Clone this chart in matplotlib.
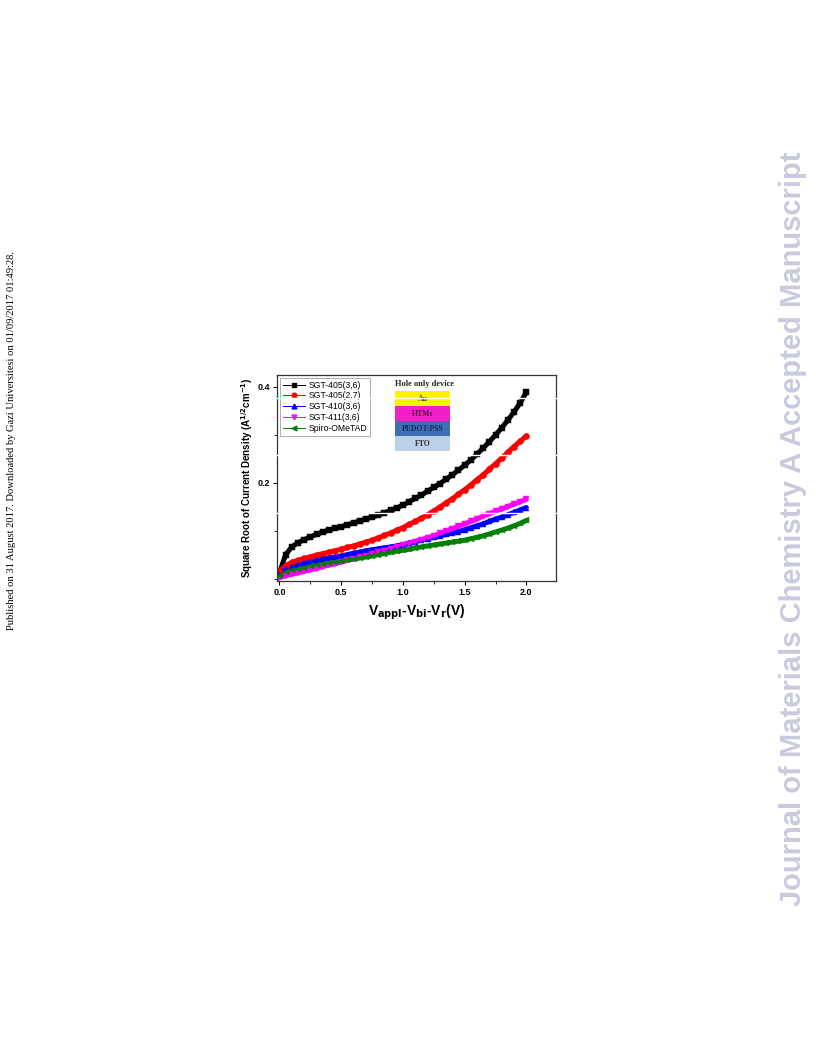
import matplotlib
matplotlib.use("Agg")
import matplotlib.pyplot as plt
from matplotlib.lines import Line2D
from matplotlib.patches import Rectangle
from matplotlib.ticker import MultipleLocator

plt.rcParams['font.family'] = ['Liberation Sans', 'DejaVu Sans']

# ---- data -----------------------------------------------------------------
voltage = [0.00, 0.05, 0.10, 0.15, 0.20, 0.25, 0.30, 0.35, 0.40, 0.45,
           0.50, 0.55, 0.60, 0.65, 0.70, 0.75, 0.80, 0.85, 0.90, 0.95,
           1.00, 1.05, 1.10, 1.15, 1.20, 1.25, 1.30, 1.35, 1.40, 1.45,
           1.50, 1.55, 1.60, 1.65, 1.70, 1.75, 1.80, 1.85, 1.90, 1.95, 2.00]

sgt405_36 = [0.012, 0.050, 0.066, 0.075, 0.081, 0.087, 0.092, 0.097, 0.101, 0.105,
             0.108, 0.112, 0.116, 0.120, 0.124, 0.128, 0.132, 0.137, 0.142, 0.147,
             0.153, 0.160, 0.167, 0.174, 0.182, 0.190, 0.198, 0.207, 0.216, 0.226,
             0.236, 0.247, 0.259, 0.272, 0.285, 0.299, 0.314, 0.330, 0.347, 0.366, 0.388]

sgt405_27 = [0.015, 0.027, 0.034, 0.038, 0.042, 0.045, 0.049, 0.052, 0.055, 0.058,
             0.061, 0.065, 0.068, 0.072, 0.076, 0.080, 0.085, 0.090, 0.095, 0.101,
             0.106, 0.113, 0.119, 0.126, 0.133, 0.141, 0.149, 0.158, 0.166, 0.176,
             0.185, 0.195, 0.206, 0.216, 0.228, 0.239, 0.251, 0.263, 0.275, 0.286, 0.297]

sgt410_36 = [0.008, 0.020, 0.025, 0.029, 0.032, 0.035, 0.038, 0.041, 0.043, 0.045,
             0.047, 0.050, 0.053, 0.055, 0.058, 0.060, 0.062, 0.064, 0.066, 0.068,
             0.071, 0.074, 0.077, 0.080, 0.083, 0.086, 0.089, 0.092, 0.095, 0.098,
             0.102, 0.106, 0.110, 0.114, 0.119, 0.124, 0.128, 0.133, 0.138, 0.143, 0.148]

sgt411_36 = [0.002, 0.006, 0.009, 0.012, 0.015, 0.018, 0.021, 0.025, 0.028, 0.031,
             0.034, 0.038, 0.041, 0.044, 0.048, 0.051, 0.055, 0.058, 0.062, 0.065,
             0.069, 0.073, 0.077, 0.081, 0.085, 0.089, 0.094, 0.099, 0.104, 0.109,
             0.114, 0.119, 0.124, 0.130, 0.135, 0.140, 0.145, 0.150, 0.155, 0.160, 0.165]

spiro = [0.005, 0.013, 0.017, 0.020, 0.023, 0.026, 0.028, 0.031, 0.033, 0.035,
         0.037, 0.039, 0.041, 0.043, 0.045, 0.047, 0.050, 0.052, 0.055, 0.057,
         0.059, 0.061, 0.064, 0.066, 0.068, 0.070, 0.072, 0.074, 0.076, 0.078,
         0.080, 0.083, 0.086, 0.089, 0.093, 0.097, 0.101, 0.105, 0.110, 0.115, 0.121]

labels = ["SGT-405(3,6)", "SGT-405(2,7)", "SGT-410(3,6)", "SGT-411(3,6)", "Spiro-OMeTAD"]
series = [sgt405_36, sgt405_27, sgt410_36, sgt411_36, spiro]
colors = ["black", "#ff0000", "#0000ff", "#ff00ff", "#008000"]
markers = ["s", "o", "^", "v", "<"]

layers = ["FTO", "PEDOT:PSS", "HTMs", "Au"]
layer_colors = ["#bcd0e6", "#3b6fb8", "#f21fc8", "#fff200"]
layer_text = ["#333344", "#1a2a55", "#5a0f3a", "#444422"]

W, H = 816, 1056
fig = plt.figure(figsize=(W / 100, H / 100), dpi=100)

def fx(px):
    return px / W

def fy(py):
    return 1 - py / H

# ---- main axes -------------------------------------------------------------
ax = fig.add_axes([fx(277), fy(581), (556 - 277) / W, (581 - 375) / H])
for ys, c in zip(series, colors):
    # thick line under the markers gives the dense-marker band look
    ax.plot(voltage, ys, color=c, lw=3.6, solid_capstyle="round")
for ys, c, m in zip(series, colors, markers):
    ax.plot(voltage, ys, color=c, marker=m, markersize=4.4, lw=0,
            markeredgewidth=0.3)

ax.set_xlim(-0.02, 2.24)
ax.set_ylim(-0.005, 0.424)
ax.xaxis.set_major_locator(MultipleLocator(0.5))
ax.xaxis.set_minor_locator(MultipleLocator(0.25))
ax.yaxis.set_minor_locator(MultipleLocator(0.1))
ax.set_yticks([0.2, 0.4])
ax.tick_params(which="major", length=3, width=0.8, labelsize=6.5, pad=2)
ax.tick_params(which="minor", length=2, width=0.6)
for t in ax.get_xticklabels() + ax.get_yticklabels():
    t.set_fontweight("bold")
for s in ax.spines.values():
    s.set_linewidth(0.9)
    s.set_color("#333333")

ax.set_xlabel(r"V$_{\mathbf{appl}}$-V$_{\mathbf{bi}}$-V$_{\mathbf{r}}$(V)",
              fontsize=10, fontweight="bold", labelpad=4)
ax.set_ylabel(r"Square Root of Current Density (A$^{\mathbf{1/2}}$cm$^{\mathbf{-1}}$)",
              fontsize=7, fontweight="bold", labelpad=2)

# legend with thin line + single marker handles
handles = [Line2D([], [], color=c, marker=m, markersize=3.4, lw=0.7)
           for c, m in zip(colors, markers)]
leg = ax.legend(handles, labels, loc="upper left", fontsize=6.2, frameon=True,
                fancybox=False, edgecolor="#888888", handlelength=2.6,
                handletextpad=0.4, borderpad=0.3, labelspacing=0.22,
                borderaxespad=0.35)
leg.get_frame().set_linewidth(0.6)

# ---- inset: hole only device stack ----------------------------------------
ins = fig.add_axes([fx(395), fy(451), 55 / W, 60 / H])
ins.set_xlim(0, 1)
ins.set_ylim(0, len(layers))
ins.axis("off")
for i, (name, fc, tc) in enumerate(zip(layers, layer_colors, layer_text)):
    ins.add_patch(Rectangle((0, i), 1, 1, facecolor=fc, edgecolor="none"))
    ins.text(0.5, i + 0.45, name, ha="center", va="center", fontsize=5.6,
             fontweight="bold", color=tc, family="Liberation Serif")
fig.text(fx(424), fy(384), "Hole only device", ha="center", va="center",
         fontsize=6, fontweight="bold", family="Liberation Serif", color="#222222")

# ---- scan artefacts: thin white lines across the figure --------------------
for py in [398, 455, 513]:
    fig.add_artist(plt.Line2D([fx(272), fx(558)], [fy(py), fy(py)],
                              color="white", lw=1.0, zorder=10))

# ---- page margins ----------------------------------------------------------
fig.text(fx(12), fy(440),
         "Published on 31 August 2017. Downloaded by Gazi Universitesi on 01/09/2017 01:49:28.",
         rotation=90, ha="center", va="center", fontsize=7.6,
         family="Liberation Serif", color="black")
fig.text(fx(793), fy(529), "Journal of Materials Chemistry A Accepted Manuscript",
         rotation=90, ha="center", va="center", fontsize=21, fontweight="bold",
         color="#cacadf")

fig.savefig("out.png", dpi=100)
